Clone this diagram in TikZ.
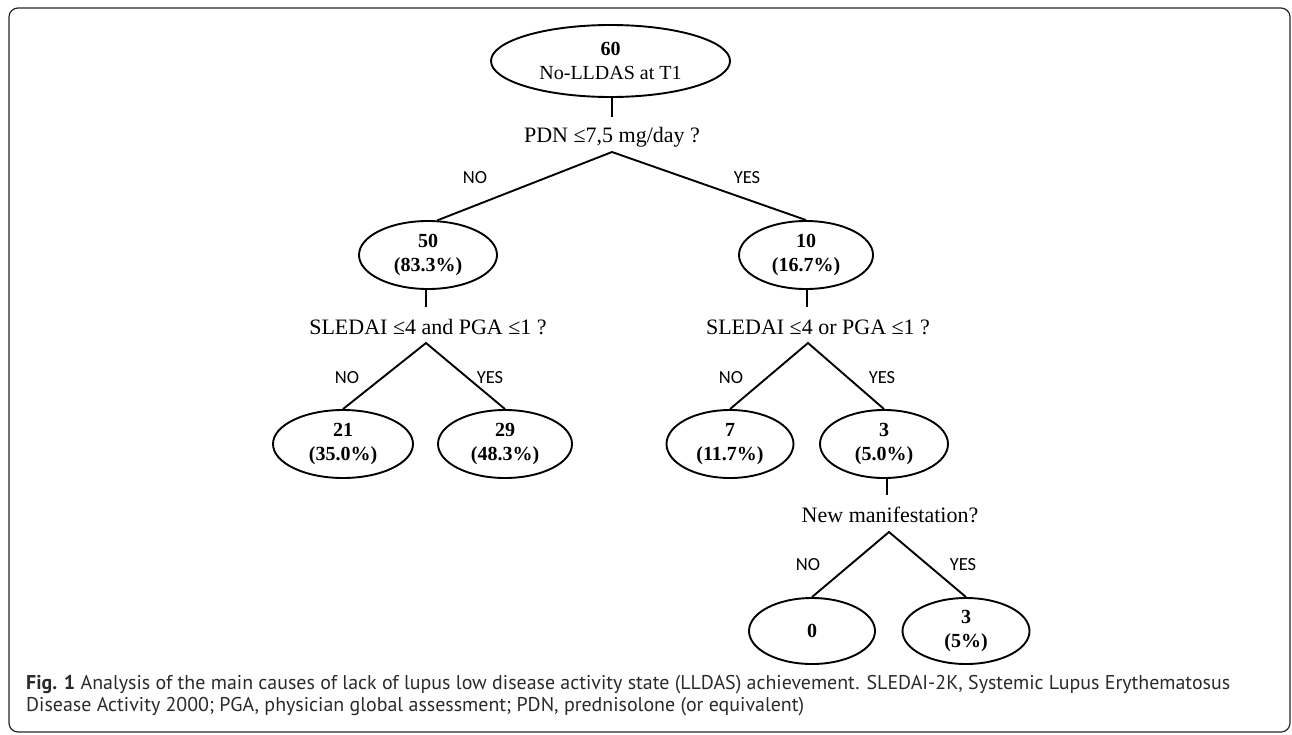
\documentclass[tikz,border=0pt]{standalone}
\usepackage{graphicx}
\usepackage{fontspec}
\setmainfont{Liberation Serif}
\newfontfamily\lblfont{Carlito}
\newfontfamily\capfont{PT Sans}
\usetikzlibrary{shapes.geometric}
\definecolor{captxt}{HTML}{2A2A2A}
\newlength\capw
\newcommand\capone{\textbf{Fig. 1} Analysis of the main causes of lack of lupus low disease activity state (LLDAS) achievement. SLEDAI-2K, Systemic Lupus Erythematosus}
\begin{document}
\settowidth{\capw}{\capfont\fontsize{18}{22}\selectfont\capone}%
\pgfmathsetmacro\capscale{1204/\capw}%
\begin{tikzpicture}[x=1pt,y=-1pt,
  every node/.style={inner sep=0pt},
  oval/.style={draw, ellipse, line width=1.9pt, align=center,
    font=\fontsize{20}{24}\selectfont\bfseries},
  ques/.style={anchor=base, font=\fontsize{22}{26}\selectfont},
  yn/.style={font=\lblfont\fontsize{18.5}{20}\selectfont},
  link/.style={line width=1.9pt},
  captext/.style={anchor=base west, text=captxt}
]
\useasboundingbox (0,0) rectangle (1292,734);
\draw[line width=1.2pt, rounded corners=9pt, black!85] (9,8) rectangle (1290,732);

% nodes
\node[oval, minimum width=239pt, minimum height=72pt] (n60) at (610.5,61) {60\\{\mdseries No-LLDAS at T1}};
\node[ques] (q1) at (612,142.5) {PDN ≤7,5 mg/day ?};
\coordinate (q1t) at (612,117);
\coordinate (q1a) at (612,152);
\node[yn] (yn1) at (475,178) {NO};
\node[yn] (yn2) at (747,178) {YES};

\node[oval, minimum width=138pt, minimum height=68pt] (n50) at (428,255) {50\\(83.3\%)};
\node[oval, minimum width=134pt, minimum height=68pt] (n10) at (806,255) {10\\(16.7\%)};

\node[ques] (q2) at (428,334.3) {SLEDAI ≤4 and PGA ≤1 ?};
\coordinate (q2t) at (426,307);
\coordinate (q2a) at (426,343);
\node[ques] (q3) at (818,334.3) {SLEDAI ≤4 or PGA ≤1 ?};
\coordinate (q3t) at (807,307);
\coordinate (q3a) at (808,343);
\node[yn] (yn3) at (347,378) {NO};
\node[yn] (yn4) at (490,378) {YES};
\node[yn] (yn5) at (731,378) {NO};
\node[yn] (yn6) at (882,378) {YES};

\node[oval, minimum width=140pt, minimum height=68pt] (n21) at (343,444) {21\\(35.0\%)};
\node[oval, minimum width=134pt, minimum height=68pt] (n29) at (505,444) {29\\(48.3\%)};
\node[oval, minimum width=127pt, minimum height=68pt] (n7) at (730,444) {7\\(11.7\%)};
\node[oval, minimum width=128pt, minimum height=68pt] (n3) at (884,444) {3\\(5.0\%)};

\node[ques] (q4) at (890,522.3) {New manifestation?};
\coordinate (q4t) at (887,495);
\coordinate (q4a) at (889,532);
\node[yn] (yn7) at (808,565) {NO};
\node[yn] (yn8) at (963,565) {YES};

\node[oval, minimum width=126pt, minimum height=66pt] (n0) at (812,631) {0};
\node[oval, minimum width=127pt, minimum height=66pt] (n3b) at (966,631) {3\\(5\%)};

% connectors
\draw[link] (q1t |- n60.south) -- (q1t);
\draw[link] (n50.75) -- (q1a) -- (n10.north);
\draw[link] (q2t |- n50.south) -- (q2t);
\draw[link] (n21.north) -- (q2a) -- (n29.north);
\draw[link] (q3t |- n10.south) -- (q3t);
\draw[link] (n7.north) -- (q3a) -- (n3.north);
\draw[link] (q4t |- n3.south) -- (q4t);
\draw[link] (n0.north) -- (q4a) -- (n3b.north);

% caption
\node[captext] (cap1) at (26,689) {\scalebox{\capscale}{\capfont\fontsize{18}{22}\selectfont\capone}};
\node[captext] (cap2) at (26,711) {\scalebox{\capscale}{\capfont\fontsize{18}{22}\selectfont Disease Activity 2000; PGA, physician global assessment; PDN, prednisolone (or equivalent)}};
\end{tikzpicture}
\end{document}
